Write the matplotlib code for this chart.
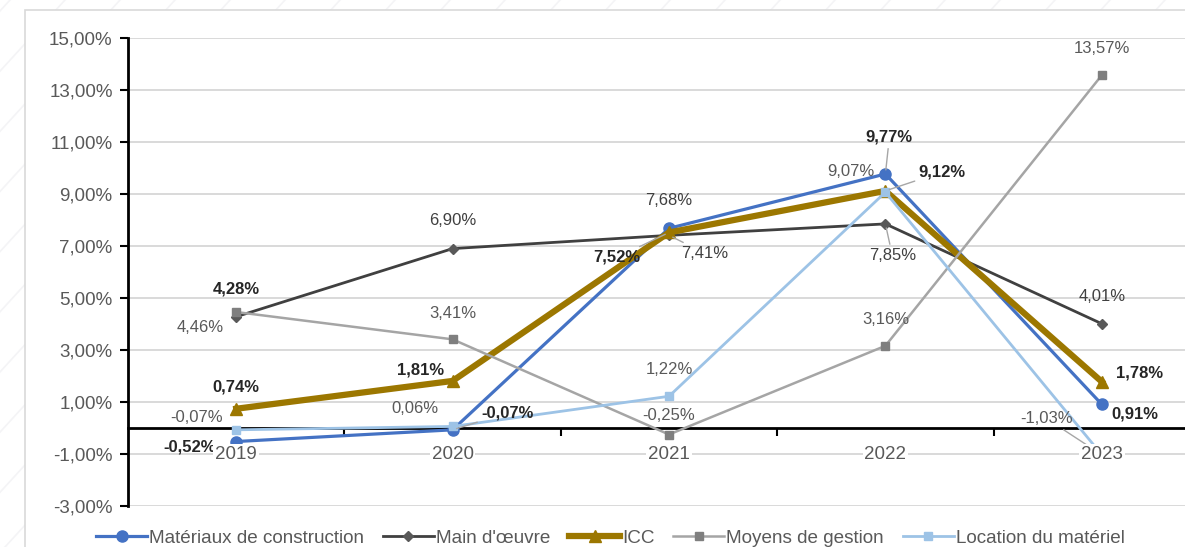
import matplotlib.pyplot as plt
from matplotlib.patches import Rectangle

plt.rcParams['font.family'] = ['Liberation Sans', 'DejaVu Sans']

# évolution annuelle des indices (%)
annees = ["2019", "2020", "2021", "2022", "2023"]
materiaux = [-0.52, -0.07, 7.68, 9.77, 0.91]
main_oeuvre = [4.28, 6.90, 7.41, 7.85, 4.01]
icc = [0.74, 1.81, 7.52, 9.12, 1.78]
moyens_gestion = [4.46, 3.41, -0.25, 3.16, 13.57]
location = [-0.07, 0.06, 1.22, 9.07, -1.03]

# décalage des étiquettes (pixels) et traits de rappel
off_mat = [(-47, -5), (55, 17), (0, 28), (4, 37), (33, -10)]
off_mo = [(0, 28), (0, 28), (36, -18), (7, -32), (0, 27)]
off_icc = [(0, 22), (-32, 11), (-52, -25), (57, 19), (38, 9)]
off_mg = [(-36, -15), (0, 26), (0, 19), (0, 26), (0, 27)]
off_loc = [(-40, 12), (-38, 18), (0, 27), (-35, 21), (-55, 36)]

series = [
    ("Matériaux de construction", materiaux, "#4472C4", 2.3, "o", 8, "#4472C4",
     off_mat, [True, True, False, True, True], [1, 3]),
    ("Main d'œuvre", main_oeuvre, "#404040", 2.0, "D", 5.5, "#595959",
     off_mo, [True, False, False, False, False], [2, 3]),
    ("ICC", icc, "#9C7700", 4.5, "^", 9, "#9C7700",
     off_icc, [True] * 5, [2, 3]),
    ("Moyens de gestion", moyens_gestion, "#A5A5A5", 1.8, "s", 6, "#7F7F7F",
     off_mg, [False] * 5, []),
    ("Location du matériel", location, "#9DC3E6", 2.0, "s", 6, "#9DC3E6",
     off_loc, [False] * 5, [4]),
]

fig = plt.figure(figsize=(11.85, 5.47), dpi=100)

# fond hachuré léger + cadre du graphique
bg = fig.add_axes([0, 0, 1, 1], zorder=-10)
bg.set_xlim(0, 1185)
bg.set_ylim(547, 0)
bg.axis("off")
for x0 in range(-600, 1400, 55):
    bg.plot([x0, x0 + 500], [547, 0], color="#f4f4f6", lw=1.2, zorder=1)
bg.add_patch(Rectangle((25, 10), 1200, 600, facecolor="white",
                       edgecolor="#d9d9d9", lw=1.2, zorder=5))

ax = fig.add_axes([128 / 1185, 1 - 506 / 547, 1082 / 1185, 468 / 547])
ax.set_facecolor("none")
x = list(range(len(annees)))

for nom, vals, col, lw, mk, ms, mfc, offs, bold, leaders in series:
    ax.plot(x, vals, color=col, lw=lw, marker=mk, markersize=ms,
            markerfacecolor=mfc, markeredgecolor=mfc, label=nom,
            solid_joinstyle="miter", zorder=3)
    for i, v in enumerate(vals):
        txt = f"{v:.2f}%".replace(".", ",")
        if bold[i]:
            tcol = "#262626"
        elif col == "#404040" or col == "#4472C4":
            tcol = "#404040"
        else:
            tcol = "#595959"
        ap = None
        if i in leaders:
            ap = dict(arrowstyle="-", color="#a6a6a6", lw=1.0,
                      shrinkA=1, shrinkB=3)
        ax.annotate(txt, (i, v), xytext=offs[i], textcoords="offset pixels",
                    ha="center", va="center", fontsize=12,
                    fontweight="bold" if bold[i] else "normal",
                    color=tcol, arrowprops=ap, zorder=6)

ax.set_xlim(-0.5, 4.5)
ax.set_ylim(-3, 15)
ax.set_yticks(range(-3, 16, 2))
ax.set_yticklabels([f"{t},00%" for t in range(-3, 16, 2)])
ax.yaxis.grid(True, color="#d9d9d9", lw=1.4)
ax.set_axisbelow(True)
ax.tick_params(axis="y", length=6, width=1.5, color="black",
               labelsize=13.5, labelcolor="#595959", pad=5)

# axe des catégories sur la ligne zéro
ax.spines["top"].set_visible(False)
ax.spines["right"].set_visible(False)
ax.spines["left"].set_linewidth(2)
ax.spines["bottom"].set_position(("data", 0))
ax.spines["bottom"].set_linewidth(2)
ax.set_xticks([0.5, 1.5, 2.5, 3.5])
ax.set_xticklabels([])
ax.tick_params(axis="x", length=6, width=1.5, color="black", direction="out")
for i, a in enumerate(annees):
    ax.text(i, -1.03, a, ha="center", va="center", fontsize=13.5,
            color="#595959", zorder=7,
            bbox=dict(boxstyle="square,pad=0.1", facecolor="white",
                      edgecolor="none"))

fig.legend(loc="center", bbox_to_anchor=(0.515, 0.016), ncol=5,
           frameon=False, fontsize=13.6, labelcolor="#595959",
           handlelength=2.7, columnspacing=1.0, handletextpad=0.1)

fig.savefig("out.png", dpi=100)
